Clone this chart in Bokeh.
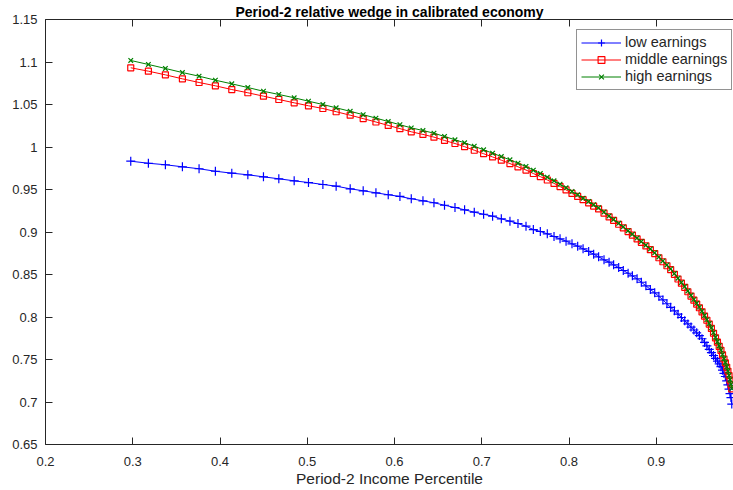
from bokeh.plotting import figure
from bokeh.models import (Range1d, LinearAxis, FixedTicker, CustomJSTickFormatter,
                          Legend, LegendItem)
from bokeh.embed import file_html
from bokeh.resources import INLINE

# ---- data ----
percentile = [
    0.2977, 0.3179, 0.3374, 0.3569, 0.3760, 0.3947, 0.4135, 0.4319, 0.4498, 0.4674,
    0.4850, 0.5014, 0.5179, 0.5331, 0.5492, 0.5641, 0.5787, 0.5928, 0.6062, 0.6192,
    0.6326, 0.6452, 0.6573, 0.6693, 0.6803, 0.6914, 0.7021, 0.7124, 0.7224, 0.7323,
    0.7415, 0.7507, 0.7591, 0.7671, 0.7751, 0.7828, 0.7897, 0.7966, 0.8034, 0.8099,
    0.8161, 0.8225, 0.8282, 0.8339, 0.8401, 0.8459, 0.8511, 0.8569, 0.8622, 0.8677,
    0.8726, 0.8780, 0.8829,
    0.8881, 0.8932, 0.8982, 0.9030, 0.9076, 0.9122, 0.9165, 0.9208, 0.9249, 0.9288,
    0.9326, 0.9362, 0.9398, 0.9431, 0.9463, 0.9494, 0.9524, 0.9553, 0.9580, 0.9607,
    0.9632, 0.9656, 0.9679, 0.9701, 0.9721, 0.9741, 0.9759, 0.9776, 0.9792, 0.9807,
    0.9821, 0.9834, 0.9845, 0.9856, 0.9865,
]

low_earnings = [
    0.9833, 0.9809, 0.9791, 0.9767, 0.9744, 0.9715, 0.9692, 0.9673, 0.9649, 0.9626,
    0.9602, 0.9582, 0.9559,
    0.9539, 0.9508, 0.9485, 0.9461, 0.9438, 0.9418, 0.9391, 0.9367, 0.9344, 0.9315,
    0.9288, 0.9261, 0.9233, 0.9209, 0.9186, 0.9155, 0.9127, 0.9100, 0.9068,
    0.9029, 0.9006, 0.8979, 0.8947, 0.8920, 0.8892, 0.8861, 0.8833, 0.8802, 0.8771,
    0.8739, 0.8708, 0.8673, 0.8645, 0.8614, 0.8582, 0.8547, 0.8515, 0.8485, 0.8449,
    0.8409,
    0.8367, 0.8325, 0.8284, 0.8244, 0.8201, 0.8156, 0.8114, 0.8073, 0.8033, 0.7994,
    0.7955, 0.7918, 0.7881, 0.7847, 0.7814, 0.7782, 0.7744, 0.7701, 0.7660, 0.7620,
    0.7582, 0.7547, 0.7513, 0.7480, 0.7449, 0.7416, 0.7375, 0.7336, 0.7300, 0.7249,
    0.7202, 0.7151, 0.7098, 0.7052, 0.6976,
]

middle_earnings = [
    1.0932, 1.0892, 1.0849, 1.0802, 1.0759, 1.0720, 1.0676, 1.0638, 1.0598, 1.0559,
    1.0520, 1.0485, 1.0453, 1.0415,
    1.0374, 1.0334, 1.0294, 1.0254, 1.0216, 1.0179, 1.0148,
    1.0116, 1.0077, 1.0041, 1.0004, 0.9962, 0.9921, 0.9883, 0.9845, 0.9805, 0.9767,
    0.9729, 0.9688, 0.9652, 0.9612, 0.9572, 0.9535, 0.9495, 0.9454, 0.9418, 0.9380,
    0.9343, 0.9305, 0.9271,
    0.9222, 0.9177, 0.9136, 0.9091, 0.9049, 0.9005, 0.8964, 0.8919, 0.8878,
    0.8836, 0.8792, 0.8746, 0.8697, 0.8650, 0.8603, 0.8557, 0.8502, 0.8447, 0.8398,
    0.8349, 0.8297, 0.8246, 0.8198, 0.8152,
    0.8109, 0.8061, 0.8011, 0.7962, 0.7917, 0.7866, 0.7809, 0.7755, 0.7704, 0.7655,
    0.7608, 0.7555, 0.7506, 0.7460, 0.7409, 0.7362, 0.7310, 0.7257, 0.7204, 0.7154,
]

high_earnings = [
    1.1018, 1.0971, 1.0924, 1.0876, 1.0833, 1.0786, 1.0743, 1.0700, 1.0656, 1.0618,
    1.0579, 1.0539, 1.0500, 1.0461,
    1.0420, 1.0380, 1.0340, 1.0300, 1.0262, 1.0225, 1.0194,
    1.0162, 1.0124, 1.0085, 1.0049, 1.0009, 0.9967, 0.9927, 0.9888, 0.9849, 0.9809,
    0.9771, 0.9727, 0.9688, 0.9645, 0.9602, 0.9562, 0.9520, 0.9476, 0.9438, 0.9398,
    0.9359, 0.9320, 0.9285,
    0.9235, 0.9189, 0.9148, 0.9102, 0.9060, 0.9015, 0.8974, 0.8929, 0.8888,
    0.8845, 0.8801, 0.8755, 0.8706, 0.8659, 0.8612, 0.8566, 0.8511, 0.8456, 0.8407,
    0.8358, 0.8306, 0.8255, 0.8207, 0.8161, 0.8116, 0.8068, 0.8018, 0.7969, 0.7924,
    0.7873, 0.7816, 0.7762, 0.7711, 0.7662, 0.7613, 0.7560, 0.7511, 0.7465, 0.7414,
    0.7367, 0.7315, 0.7262, 0.7209, 0.7159,
]

x_ticks = [0.2, 0.3, 0.4, 0.5, 0.6, 0.7, 0.8, 0.9]
y_ticks = [0.65, 0.7, 0.75, 0.8, 0.85, 0.9, 0.95, 1.0, 1.05, 1.1, 1.15]
series_names = ["low earnings", "middle earnings", "high earnings"]
title_text = "Period-2 relative wedge in calibrated economy"
x_label = "Period-2 Income Percentile"

FONT = "Liberation Sans"
AX = "#262626"

p = figure(width=733, height=490, output_backend="svg", toolbar_location=None,
           x_range=Range1d(0.2, 0.9885), y_range=Range1d(0.65, 1.15),
           min_border_left=45, min_border_right=0, min_border_top=19,
           min_border_bottom=46)
p.outline_line_color = None
p.background_fill_color = "white"
p.border_fill_color = "white"
p.grid.visible = False

p.title.text = title_text
p.title.align = "center"
p.title.text_font = FONT
p.title.text_font_style = "bold"
p.title.text_font_size = "14px"
p.title.text_color = "black"
p.title.standoff = 0
p.title.offset = 4

fmt = CustomJSTickFormatter(code="return Number(tick.toFixed(2)).toString();")

for ax in (p.xaxis[0], p.yaxis[0]):
    ax.major_tick_in = 7
    ax.major_tick_out = 0
    ax.minor_tick_line_color = None
    ax.axis_line_color = AX
    ax.major_tick_line_color = AX
    ax.major_label_text_font = FONT
    ax.major_label_text_font_size = "13px"
    ax.major_label_text_color = AX
    ax.formatter = fmt

p.xaxis[0].ticker = FixedTicker(ticks=x_ticks)
p.yaxis[0].ticker = FixedTicker(ticks=y_ticks)
p.xaxis[0].major_label_standoff = 12
p.yaxis[0].major_label_standoff = 8
p.xaxis[0].axis_label = x_label
p.xaxis[0].axis_label_text_font = FONT
p.xaxis[0].axis_label_text_font_size = "15.5px"
p.xaxis[0].axis_label_text_font_style = "normal"
p.xaxis[0].axis_label_text_color = AX
p.xaxis[0].axis_label_standoff = 1

top = LinearAxis(ticker=FixedTicker(ticks=x_ticks),
                 formatter=CustomJSTickFormatter(code="return '';"))
top.major_tick_in = 7
top.major_tick_out = 0
top.minor_tick_line_color = None
top.axis_line_color = AX
top.major_tick_line_color = AX
top.major_label_standoff = 0
p.add_layout(top, "above")

colors = ["#0000ff", "#ff0000", "#008000"]
markers = ["cross", "square", "x"]
sizes = [9, 6, 6.5]
series = [low_earnings, middle_earnings, high_earnings]

items = []
for name, ys, c, m, s in zip(series_names, series, colors, markers, sizes):
    ln = p.line(percentile, ys, line_color=c, line_width=1)
    sc = p.scatter(percentile, ys, marker=m, size=s, line_color=c,
                   fill_color=None, line_width=1.2)
    items.append(LegendItem(label=name, renderers=[ln, sc]))

legend = Legend(items=items, location=(531, 354.5))
legend.label_text_font = FONT
legend.label_text_font_size = "14.5px"
legend.label_text_color = AX
legend.padding = 4
legend.spacing = 0
legend.glyph_width = 40
legend.glyph_height = 17
legend.label_height = 17
legend.label_standoff = 4
legend.border_line_color = AX
legend.border_line_width = 1
legend.background_fill_color = "white"
legend.background_fill_alpha = 1
legend.margin = 0
p.add_layout(legend, "center")

open("out.html", "w").write(file_html(p, INLINE))
